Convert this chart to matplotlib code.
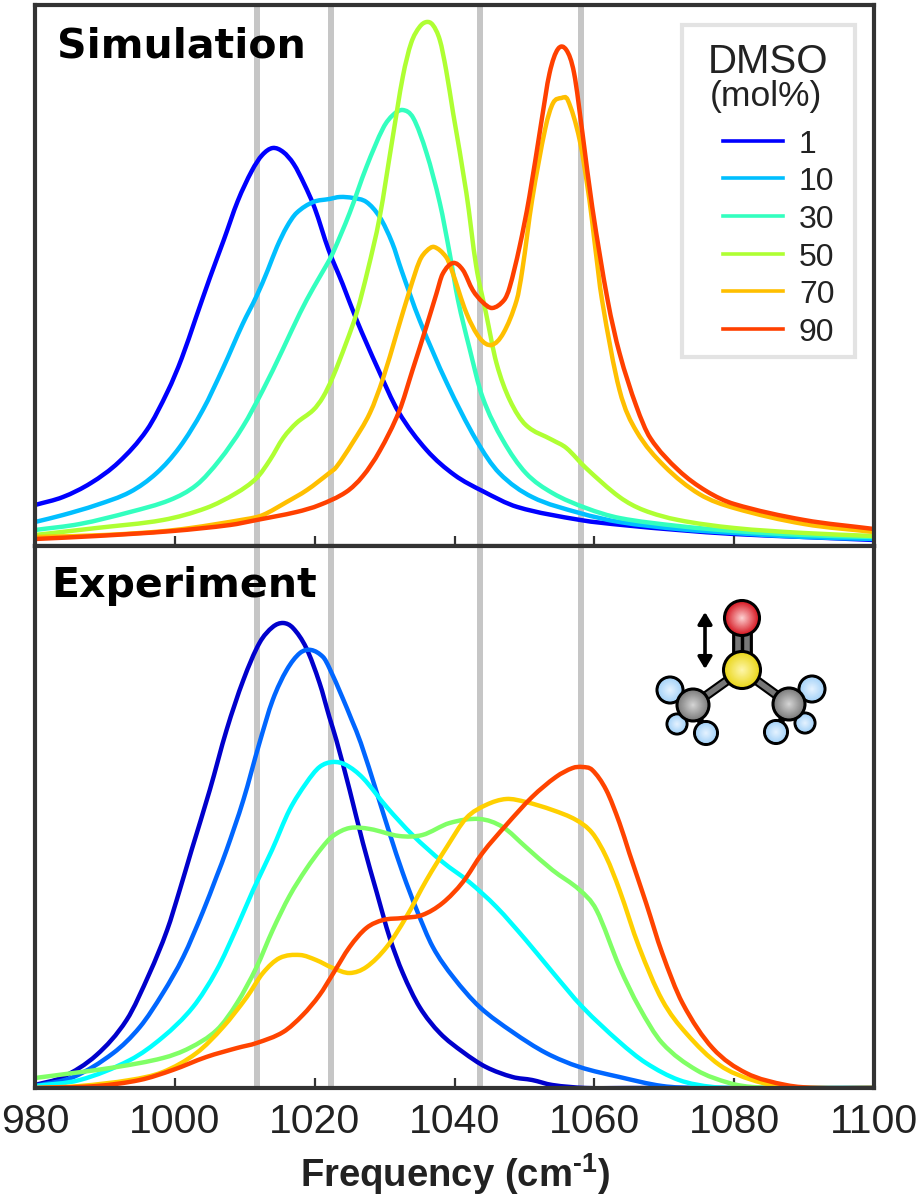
import matplotlib
matplotlib.use('Agg')
import matplotlib.pyplot as plt
from matplotlib.colors import to_rgb
from matplotlib.patches import Circle, PathPatch, Rectangle
from matplotlib.path import Path

# all intensities are in arbitrary units
sim_1_x = [980, 984, 988, 992, 996, 999, 1001, 1003, 1005, 1007, 1009, 1011, 1012.5, 1014, 1015.5, 1017, 1018.5, 1020, 1022, 1024, 1026, 1029, 1032, 1036, 1040, 1044, 1049, 1058, 1064, 1072, 1080, 1090, 1100]
sim_1_y = [41, 49, 63, 84, 116, 155, 188, 228, 268, 306, 345, 375, 391, 398, 394, 382, 362, 338, 296, 262, 226, 178, 134, 96, 71, 55, 39, 26, 21, 16, 12, 9, 6]
sim_10_x = [980, 984, 988.8, 993.6, 997.4, 1000.7, 1004, 1006.9, 1009.7, 1011.7, 1013.3, 1014.6, 1016, 1017.4, 1019.8, 1022.1, 1023.6, 1025.5, 1027.4, 1029.3, 1031.1, 1032.4, 1035, 1038.9, 1043.1, 1046.4, 1051.1, 1057.9, 1063.6, 1072, 1080, 1090, 1100]
sim_10_y = [24, 31, 41, 54, 73, 99, 136, 178, 222, 250, 276, 299, 319, 333, 344, 347, 349, 348, 344, 329, 303, 276, 226, 163, 106, 73, 49, 33, 24, 17, 13, 9, 7]
sim_30_x = [980, 986.4, 993.6, 999.3, 1003.1, 1006.4, 1009.7, 1012.6, 1015.4, 1017.9, 1019.8, 1021.7, 1022.6, 1025, 1027.4, 1029.8, 1031.2, 1032.6, 1034.1, 1036, 1037.9, 1039.3, 1040.5, 1042.1, 1044, 1046.9, 1050.2, 1054, 1058.8, 1063.6, 1072, 1080, 1090, 1100]
sim_30_y = [16, 22, 34, 46, 61, 86, 119, 156, 196, 233, 258, 281, 293, 333, 379, 418, 431, 436, 428, 393, 343, 293, 246, 199, 149, 106, 73, 53, 38, 28, 20, 15, 11, 9]
sim_50_x = [980, 988.8, 998.3, 1004.5, 1008.8, 1011.7, 1013.6, 1015.5, 1017.4, 1019.8, 1021.2, 1022.6, 1024.5, 1026, 1027.6, 1029.3, 1031.1, 1032.6, 1033.8, 1035, 1036, 1036.9, 1037.9, 1038.8, 1039.8, 1041.7, 1043.1, 1044.5, 1046, 1047.9, 1050.2, 1054, 1056, 1058.8, 1063.6, 1067, 1072, 1080, 1090, 1100]
sim_50_y = [11, 18, 26, 38, 53, 68, 86, 108, 123, 136, 149, 169, 203, 233, 276, 329, 406, 469, 503, 519, 524, 521, 506, 476, 433, 353, 280, 233, 183, 146, 121, 106, 98, 78, 49, 36, 26, 18, 13, 10]
sim_70_x = [980, 990, 1000, 1010.3, 1012.6, 1016, 1018.9, 1022.1, 1023.1, 1025.4, 1027.9, 1029.8, 1031.7, 1033.6, 1035, 1036, 1037.1, 1038.8, 1039.6, 1041.7, 1043.6, 1045.3, 1047, 1048.9, 1049.7, 1051.1, 1053, 1054.1, 1055.3, 1056.2, 1057.9, 1059.3, 1060, 1061.1, 1063.6, 1066, 1070, 1075, 1080, 1090, 1100]
sim_70_y = [9, 11, 16, 27, 31, 44, 56, 73, 79, 103, 133, 168, 212, 256, 285, 295, 299, 289, 276, 233, 208, 201, 213, 246, 276, 346, 418, 443, 448, 446, 406, 346, 306, 246, 156, 115, 80, 52, 38, 22, 14]
sim_90_x = [980, 988.8, 999.7, 1007.9, 1011.7, 1017.4, 1020.7, 1024.5, 1026.9, 1029.3, 1032.1, 1034, 1036, 1037.4, 1038.3, 1039.8, 1041.2, 1042.6, 1044, 1045.4, 1047.1, 1047.9, 1049.3, 1050.7, 1052.4, 1053.6, 1054.8, 1056, 1057.1, 1058.3, 1059.7, 1061.9, 1063.6, 1066, 1068, 1072, 1076, 1080, 1090, 1100]
sim_90_y = [7, 10, 15, 21, 26, 34, 41, 54, 70, 95, 135, 176, 220, 252, 272, 283, 276, 256, 244, 238, 246, 259, 299, 349, 423, 473, 497, 496, 473, 413, 339, 246, 193, 140, 108, 76, 55, 42, 26, 17]

exp_1_x = [980, 984, 988.8, 993.1, 996.4, 998.9, 1000.7, 1002.4, 1005, 1007.4, 1009.8, 1012.1, 1014, 1015.5, 1016.9, 1018.8, 1020.7, 1022.1, 1023.1, 1025, 1026.9, 1028.9, 1030.7, 1032.6, 1035, 1037.9, 1041.2, 1044.5, 1048.3, 1051.1, 1054, 1058.8, 1065, 1100]
exp_1_y = [3, 11, 33, 68, 115, 158, 198, 238, 298, 358, 408, 445, 461, 465, 460, 440, 405, 371, 348, 298, 245, 195, 151, 115, 81, 55, 36, 21, 11, 8, 3, 0, 0, 0]
exp_10_x = [980, 985.5, 991.2, 995, 998.3, 1001.2, 1004, 1006, 1007.4, 1009.8, 1012.1, 1014, 1016, 1017.9, 1019.5, 1021.2, 1022.1, 1024, 1025.3, 1026.6, 1028.9, 1030.7, 1032.6, 1034.6, 1036.9, 1039.8, 1043.6, 1048.3, 1053.1, 1057.9, 1063.6, 1069.7, 1075, 1100]
exp_10_y = [2, 11, 35, 61, 95, 131, 176, 212, 238, 288, 345, 388, 418, 435, 438, 431, 420, 390, 368, 345, 295, 255, 215, 178, 141, 111, 81, 56, 35, 21, 11, 2, 0, 0]
exp_30_x = [980, 986.4, 993.6, 998.3, 1002.6, 1006, 1008.9, 1011.2, 1013.9, 1016.4, 1018.8, 1020.7, 1022.6, 1024.5, 1026.9, 1030.3, 1034, 1038.3, 1042.1, 1046, 1050.2, 1054, 1058.3, 1063.6, 1067.4, 1072.1, 1076.9, 1082, 1100]
exp_30_y = [2, 8, 28, 51, 81, 118, 161, 198, 238, 278, 305, 321, 326, 323, 310, 281, 253, 226, 206, 181, 148, 116, 81, 46, 25, 8, 1, 0, 0]
exp_50_x = [980, 985.5, 991.7, 998.3, 1002.1, 1006, 1008.9, 1011.7, 1014, 1016.4, 1018.8, 1021, 1022.6, 1025, 1027.9, 1032.1, 1035.4, 1039.3, 1043.6, 1046.9, 1050.2, 1054, 1057.9, 1060.3, 1063.6, 1066.4, 1069.7, 1074.6, 1079.3, 1082.6, 1088, 1100]
exp_50_y = [10, 15, 21, 30, 40, 58, 85, 121, 158, 192, 219, 240, 252, 260, 259, 252, 253, 265, 269, 261, 241, 218, 198, 178, 121, 81, 45, 18, 5, 1, 0, 0]
exp_70_x = [980, 986.4, 993.6, 998.3, 1003.1, 1006.9, 1010.3, 1012.6, 1015, 1017.9, 1020.2, 1022.6, 1025, 1027.4, 1030.3, 1033.1, 1036, 1038.9, 1041.7, 1044.5, 1047.4, 1050.2, 1054, 1057.4, 1059.7, 1061.7, 1063.6, 1066.4, 1069.7, 1073.1, 1077.9, 1082.6, 1087.4, 1092, 1100]
exp_70_y = [0, 2, 8, 16, 35, 61, 91, 115, 130, 133, 128, 120, 115, 121, 141, 171, 208, 241, 270, 283, 289, 286, 278, 268, 255, 231, 198, 141, 88, 55, 23, 8, 1, 0, 0]
exp_90_x = [980, 988.8, 995, 999.7, 1004.5, 1008.9, 1011.7, 1015.5, 1018.3, 1020.7, 1022.6, 1025, 1027.4, 1029.8, 1032.6, 1035.4, 1038.3, 1041.2, 1044, 1047.4, 1051.1, 1054.5, 1056.9, 1058.3, 1059.7, 1061.7, 1063.6, 1065, 1067.4, 1069.7, 1072.6, 1076.9, 1081.7, 1087.4, 1092, 1100]
exp_90_y = [0, 2, 8, 18, 31, 40, 45, 56, 73, 93, 114, 141, 160, 168, 170, 173, 185, 206, 235, 263, 291, 311, 320, 321, 318, 298, 265, 235, 185, 135, 85, 40, 15, 3, 0, 0]

sim_curves = [(sim_1_x, sim_1_y), (sim_10_x, sim_10_y), (sim_30_x, sim_30_y),
              (sim_50_x, sim_50_y), (sim_70_x, sim_70_y), (sim_90_x, sim_90_y)]
exp_curves = [(exp_1_x, exp_1_y), (exp_10_x, exp_10_y), (exp_30_x, exp_30_y),
              (exp_50_x, exp_50_y), (exp_70_x, exp_70_y), (exp_90_x, exp_90_y)]

sim_colors = ['#0000FF', '#00BFFF', '#33FFBF', '#AFFF33', '#FFBF00', '#FF4000']
exp_colors = ['#0000CC', '#0066FF', '#00FFFF', '#80FF66', '#FFD000', '#FF4400']
dmso_labels = ['1', '10', '30', '50', '70', '90']

peak_lines = [1011.7, 1022.4, 1043.7, 1058.1]
freq_ticks = [980, 1000, 1020, 1040, 1060, 1080, 1100]

W, H = 918, 1200
FRAME = '#333333'
SANS = 'Liberation Sans'

plt.rcParams['mathtext.fontset'] = 'custom'
plt.rcParams['mathtext.rm'] = 'Liberation Sans:bold'
plt.rcParams['mathtext.default'] = 'rm'

fig = plt.figure(figsize=(W / 100, H / 100), dpi=100)


def make_panel(top, bottom):
    ax = fig.add_axes([35 / W, 1 - bottom / H, 839 / W, (bottom - top) / H])
    ax.set_xlim(980, 1100)
    ax.set_ylim(0, bottom - top)
    ax.set_yticks([])
    ax.set_xticks(freq_ticks)
    for s in ax.spines.values():
        s.set_linewidth(3)
        s.set_color(FRAME)
        s.set_zorder(5)
    return ax


def curve_path(x, y):
    # bezier segments through the read points, so the peaks do not look faceted
    slopes = []
    for i in range(len(x)):
        a, b = max(i - 1, 0), min(i + 1, len(x) - 1)
        slopes.append((y[b] - y[a]) / (x[b] - x[a]))
    verts = [(x[0], y[0])]
    codes = [Path.MOVETO]
    for i in range(len(x) - 1):
        d = (x[i + 1] - x[i]) / 3
        verts += [(x[i] + d, y[i] + slopes[i] * d),
                  (x[i + 1] - d, y[i + 1] - slopes[i + 1] * d),
                  (x[i + 1], y[i + 1])]
        codes += [Path.CURVE4] * 3
    return Path(verts, codes)


ax_sim = make_panel(5, 546)
ax_exp = make_panel(546, 1088)

for ax, curves, colors in [(ax_sim, sim_curves, sim_colors), (ax_exp, exp_curves, exp_colors)]:
    for f in peak_lines:
        ax.axvline(f, color='#C6C6C6', lw=4.3, zorder=1)
    for (x, y), c in zip(curves, colors):
        ax.add_patch(PathPatch(curve_path(x, y), fc='none', ec=c, lw=3.2, zorder=3, joinstyle='round'))

ax_sim.tick_params(axis='x', direction='inout', length=14, width=1.6, color=FRAME, labelbottom=False)
ax_exp.tick_params(axis='x', direction='in', length=7, width=1.6, color=FRAME, pad=11, labelsize=29.5,
                   labelcolor='#222222')
for lab in ax_exp.get_xticklabels():
    lab.set_family(SANS)

# overlay in picture pixels for the labels, legend box and molecule
ov = fig.add_axes([0, 0, 1, 1], zorder=10)
ov.set_xlim(0, W)
ov.set_ylim(H, 0)
ov.axis('off')
ov.patch.set_alpha(0)

ov.text(57, 57, 'Simulation', family='DejaVu Sans', weight='bold', fontsize=29.5, color='black')
ov.text(51, 597, 'Experiment', family='DejaVu Sans', weight='bold', fontsize=29.5, color='black')
ov.text(455, 1187, 'Frequency (cm$^{\\text{-}1}$)', family=SANS, weight='bold', fontsize=27.5,
        ha='center', color='#222222')

# legend
ov.add_patch(Rectangle((682, 25), 173, 332, fc='white', ec='#E3E3E3', lw=3))
ov.text(768, 73, 'DMSO', family=SANS, fontsize=29, ha='center', color='#222222')
ov.text(766, 106, '(mol%)', family=SANS, fontsize=25.5, ha='center', color='#222222')
legend_y = [141, 178, 216, 254, 291, 329]
for ly, c, lab in zip(legend_y, sim_colors, dmso_labels):
    ov.plot([723, 783], [ly, ly], color=c, lw=2.6)
    ov.text(799, ly + 12, lab, family=SANS, fontsize=23, color='#222222')


def atom(x, y, r, base, light):
    # stacked discs stand in for the shaded spheres
    ov.add_patch(Circle((x, y), r, fc=base, ec='black', lw=2.2, zorder=4))
    steps = 14
    for i in range(1, steps):
        t = i / steps
        col = [a + (b - a) * t for a, b in zip(to_rgb(base), to_rgb(light))]
        ov.add_patch(Circle((x, y), (r - 1) * (1 - t), fc=col, ec='none', zorder=4))


S_XY = (742, 670)
C_LEFT = (693, 705)
C_RIGHT = (789, 704)
for end in [C_LEFT, C_RIGHT]:
    ov.plot([S_XY[0], end[0]], [S_XY[1], end[1]], color='black', lw=7, zorder=2)
    ov.plot([S_XY[0], end[0]], [S_XY[1], end[1]], color='#777777', lw=4, zorder=3)
ov.plot([742, 742], [618, 670], color='black', lw=15, zorder=2, solid_capstyle='butt')
for dx in [-4.5, 4.5]:
    ov.plot([742 + dx, 742 + dx], [618, 670], color='#777777', lw=4, zorder=3, solid_capstyle='butt')

left_h = [(670, 690, 13), (677, 724, 10), (706, 733, 11.5)]
right_h = [(812, 689, 13), (805, 723, 10), (776, 732, 11.5)]
for carbon, hydrogens in [(C_LEFT, left_h), (C_RIGHT, right_h)]:
    for hx, hy, hr in hydrogens:
        ov.plot([carbon[0], hx], [carbon[1], hy], color='black', lw=5, zorder=2)
        atom(hx, hy, hr, '#A8D4F8', '#E8F4FF')
atom(C_LEFT[0], C_LEFT[1], 16, '#808080', '#D8D8D8')
atom(C_RIGHT[0], C_RIGHT[1], 16, '#808080', '#D8D8D8')
atom(742, 618, 17.5, '#D8202A', '#FFD8D8')
atom(S_XY[0], S_XY[1], 18.5, '#EBD820', '#FFF8B0')

ov.annotate('', xy=(705, 612), xytext=(705, 669),
            arrowprops=dict(arrowstyle='<|-|>,head_length=0.7,head_width=0.42', color='black', lw=2.6,
                            shrinkA=0, shrinkB=0))

fig.savefig('out.png', dpi=100)
